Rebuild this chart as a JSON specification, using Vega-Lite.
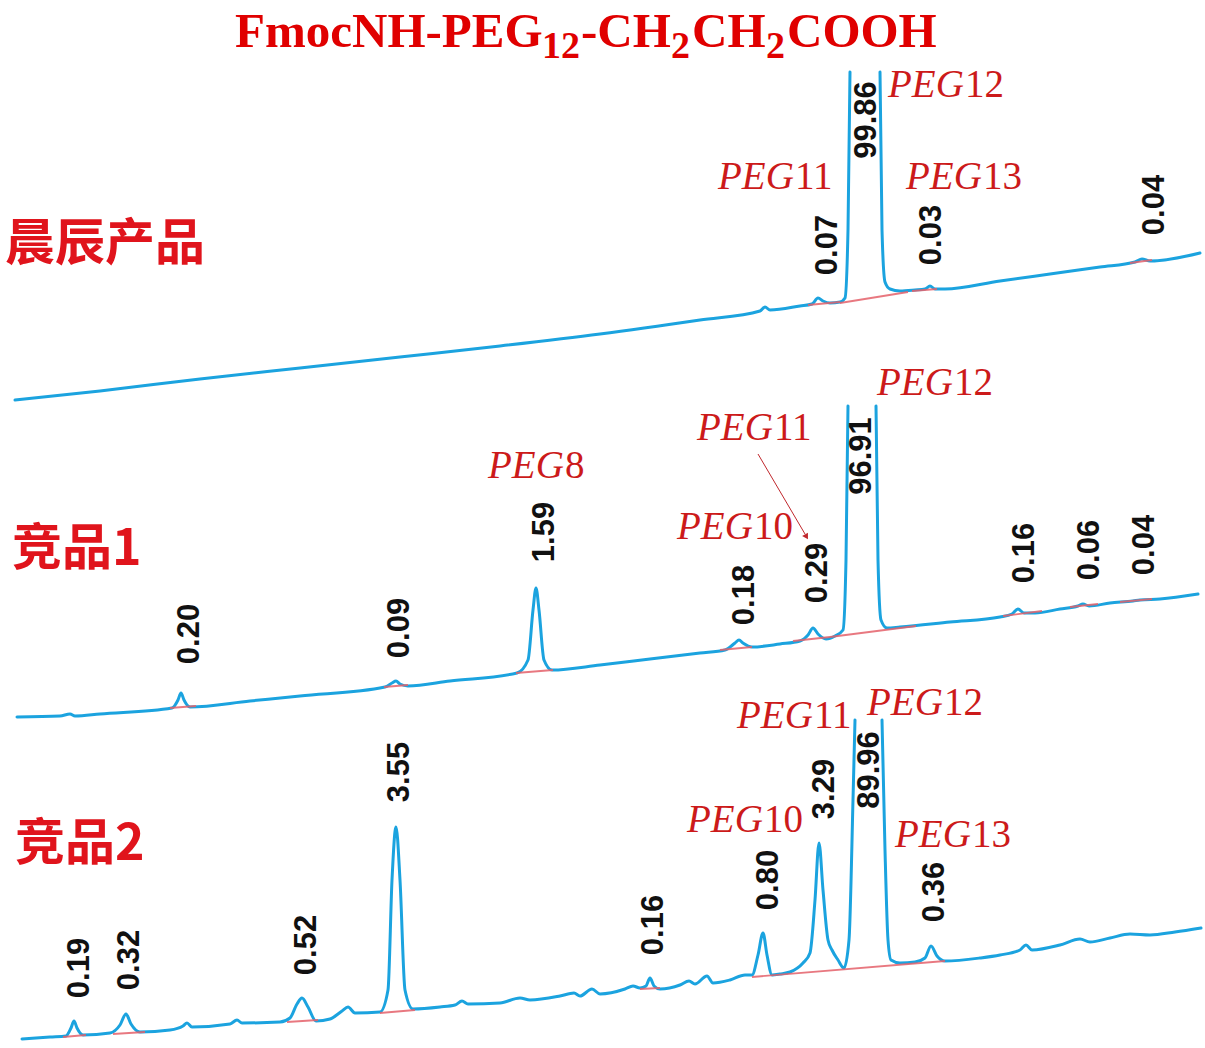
{
  "$schema": "https://vega.github.io/schema/vega-lite/v6.json",
  "width": 1205,
  "height": 1048,
  "autosize": {"type": "fit", "contains": "padding"},
  "padding": 0,
  "background": "white",
  "config": {"view": {"stroke": null}},
  "datasets": {
    "trace": [
      {"s":"a1","x":15,"y":400},{"s":"a1","x":100,"y":391},{"s":"a1","x":200,"y":379},{"s":"a1","x":300,"y":368},{"s":"a1","x":400,"y":357},{"s":"a1","x":500,"y":346},{"s":"a1","x":600,"y":334},{"s":"a1","x":700,"y":320},{"s":"a1","x":760,"y":311},{"s":"a1","x":765,"y":307},{"s":"a1","x":770,"y":310},{"s":"a1","x":800,"y":306},{"s":"a1","x":812,"y":304},{"s":"a1","x":818,"y":298},{"s":"a1","x":823,"y":301},{"s":"a1","x":830,"y":303},{"s":"a1","x":840,"y":302},{"s":"a1","x":845,"y":298},{"s":"a1","x":848,"y":230},{"s":"a1","x":850,"y":72},
      {"s":"b1","x":880,"y":72},{"s":"b1","x":882,"y":230},{"s":"b1","x":885,"y":282},{"s":"b1","x":890,"y":289},{"s":"b1","x":900,"y":291},{"s":"b1","x":915,"y":290},{"s":"b1","x":925,"y":289},{"s":"b1","x":930,"y":286},{"s":"b1","x":935,"y":289},{"s":"b1","x":945,"y":289},{"s":"b1","x":1000,"y":281},{"s":"b1","x":1050,"y":274},{"s":"b1","x":1100,"y":267},{"s":"b1","x":1135,"y":262},{"s":"b1","x":1142,"y":259},{"s":"b1","x":1150,"y":261},{"s":"b1","x":1200,"y":253},
      {"s":"a2","x":17,"y":717},{"s":"a2","x":60,"y":716},{"s":"a2","x":70,"y":714},{"s":"a2","x":75,"y":716},{"s":"a2","x":100,"y":714},{"s":"a2","x":172,"y":708},{"s":"a2","x":178,"y":700},{"s":"a2","x":181,"y":693},{"s":"a2","x":184,"y":700},{"s":"a2","x":190,"y":707},{"s":"a2","x":250,"y":701},{"s":"a2","x":300,"y":696},{"s":"a2","x":385,"y":687},{"s":"a2","x":392,"y":683},{"s":"a2","x":396,"y":681},{"s":"a2","x":400,"y":684},{"s":"a2","x":408,"y":686},{"s":"a2","x":450,"y":681},{"s":"a2","x":517,"y":673},{"s":"a2","x":528,"y":660},{"s":"a2","x":533,"y":610},{"s":"a2","x":536,"y":588},{"s":"a2","x":539,"y":610},{"s":"a2","x":544,"y":660},{"s":"a2","x":552,"y":670},{"s":"a2","x":600,"y":665},{"s":"a2","x":650,"y":659},{"s":"a2","x":700,"y":653},{"s":"a2","x":725,"y":650},{"s":"a2","x":735,"y":643},{"s":"a2","x":739,"y":640},{"s":"a2","x":743,"y":643},{"s":"a2","x":752,"y":647},{"s":"a2","x":780,"y":644},{"s":"a2","x":800,"y":641},{"s":"a2","x":808,"y":635},{"s":"a2","x":813,"y":628},{"s":"a2","x":818,"y":634},{"s":"a2","x":826,"y":639},{"s":"a2","x":835,"y":636},{"s":"a2","x":843,"y":630},{"s":"a2","x":846,"y":560},{"s":"a2","x":848,"y":406},
      {"s":"b2","x":876,"y":406},{"s":"b2","x":878,"y":560},{"s":"b2","x":881,"y":620},{"s":"b2","x":887,"y":628},{"s":"b2","x":900,"y":627},{"s":"b2","x":950,"y":622},{"s":"b2","x":1000,"y":617},{"s":"b2","x":1012,"y":614},{"s":"b2","x":1018,"y":609},{"s":"b2","x":1024,"y":613},{"s":"b2","x":1035,"y":613},{"s":"b2","x":1060,"y":609},{"s":"b2","x":1078,"y":606},{"s":"b2","x":1083,"y":604},{"s":"b2","x":1089,"y":606},{"s":"b2","x":1110,"y":603},{"s":"b2","x":1133,"y":601},{"s":"b2","x":1140,"y":600},{"s":"b2","x":1160,"y":599},{"s":"b2","x":1198,"y":594},
      {"s":"a3","x":22,"y":1039},{"s":"a3","x":50,"y":1037},{"s":"a3","x":66,"y":1036},{"s":"a3","x":71,"y":1028},{"s":"a3","x":74,"y":1021},{"s":"a3","x":77,"y":1028},{"s":"a3","x":83,"y":1035},{"s":"a3","x":110,"y":1033},{"s":"a3","x":120,"y":1025},{"s":"a3","x":126,"y":1014},{"s":"a3","x":131,"y":1024},{"s":"a3","x":140,"y":1032},{"s":"a3","x":170,"y":1030},{"s":"a3","x":183,"y":1026},{"s":"a3","x":187,"y":1023},{"s":"a3","x":192,"y":1027},{"s":"a3","x":230,"y":1024},{"s":"a3","x":237,"y":1020},{"s":"a3","x":242,"y":1023},{"s":"a3","x":280,"y":1022},{"s":"a3","x":290,"y":1018},{"s":"a3","x":297,"y":1004},{"s":"a3","x":302,"y":998},{"s":"a3","x":308,"y":1007},{"s":"a3","x":316,"y":1021},{"s":"a3","x":330,"y":1019},{"s":"a3","x":342,"y":1011},{"s":"a3","x":348,"y":1007},{"s":"a3","x":355,"y":1013},{"s":"a3","x":380,"y":1012},{"s":"a3","x":388,"y":990},{"s":"a3","x":392,"y":880},{"s":"a3","x":396,"y":827},{"s":"a3","x":400,"y":880},{"s":"a3","x":405,"y":990},{"s":"a3","x":413,"y":1009},{"s":"a3","x":440,"y":1007},{"s":"a3","x":455,"y":1005},{"s":"a3","x":462,"y":1001},{"s":"a3","x":468,"y":1004},{"s":"a3","x":500,"y":1003},{"s":"a3","x":520,"y":998},{"s":"a3","x":530,"y":1000},{"s":"a3","x":560,"y":996},{"s":"a3","x":574,"y":993},{"s":"a3","x":580,"y":996},{"s":"a3","x":592,"y":989},{"s":"a3","x":600,"y":994},{"s":"a3","x":625,"y":989},{"s":"a3","x":633,"y":986},{"s":"a3","x":640,"y":988},{"s":"a3","x":646,"y":986},{"s":"a3","x":650,"y":978},{"s":"a3","x":654,"y":986},{"s":"a3","x":660,"y":989},{"s":"a3","x":680,"y":985},{"s":"a3","x":689,"y":981},{"s":"a3","x":695,"y":984},{"s":"a3","x":707,"y":976},{"s":"a3","x":713,"y":983},{"s":"a3","x":730,"y":980},{"s":"a3","x":745,"y":975},{"s":"a3","x":752,"y":975},{"s":"a3","x":758,"y":955},{"s":"a3","x":763,"y":933},{"s":"a3","x":767,"y":955},{"s":"a3","x":772,"y":975},{"s":"a3","x":780,"y":974},{"s":"a3","x":790,"y":972},{"s":"a3","x":803,"y":963},{"s":"a3","x":810,"y":953},{"s":"a3","x":815,"y":900},{"s":"a3","x":819,"y":843},{"s":"a3","x":823,"y":890},{"s":"a3","x":828,"y":940},{"s":"a3","x":832,"y":950},{"s":"a3","x":838,"y":960},{"s":"a3","x":844,"y":968},{"s":"a3","x":849,"y":940},{"s":"a3","x":853,"y":800},{"s":"a3","x":855,"y":720},
      {"s":"b3","x":882,"y":720},{"s":"b3","x":885,"y":850},{"s":"b3","x":888,"y":940},{"s":"b3","x":891,"y":960},{"s":"b3","x":900,"y":963},{"s":"b3","x":915,"y":962},{"s":"b3","x":925,"y":958},{"s":"b3","x":931,"y":946},{"s":"b3","x":937,"y":956},{"s":"b3","x":945,"y":961},{"s":"b3","x":980,"y":958},{"s":"b3","x":1000,"y":955},{"s":"b3","x":1020,"y":950},{"s":"b3","x":1026,"y":945},{"s":"b3","x":1032,"y":950},{"s":"b3","x":1060,"y":945},{"s":"b3","x":1080,"y":939},{"s":"b3","x":1090,"y":942},{"s":"b3","x":1110,"y":938},{"s":"b3","x":1130,"y":934},{"s":"b3","x":1150,"y":935},{"s":"b3","x":1175,"y":932},{"s":"b3","x":1201,"y":928}
    ],
    "base": [
      {"x":808,"y":305,"x2":840,"y2":302},{"x":840,"y":303,"x2":908,"y2":292},{"x":912,"y":291,"x2":937,"y2":289},{"x":1130,"y":263,"x2":1152,"y2":260},
      {"x":170,"y":708,"x2":196,"y2":706},{"x":384,"y":687,"x2":408,"y2":685},{"x":516,"y":673,"x2":553,"y2":670},{"x":720,"y":650,"x2":752,"y2":647},{"x":793,"y":641,"x2":830,"y2":637},{"x":830,"y":637,"x2":916,"y2":626},{"x":1003,"y":616,"x2":1042,"y2":611},{"x":1070,"y":607,"x2":1098,"y2":604},{"x":1120,"y":602,"x2":1152,"y2":599},
      {"x":63,"y":1037,"x2":86,"y2":1035},{"x":113,"y":1034,"x2":145,"y2":1032},{"x":287,"y":1022,"x2":318,"y2":1020},{"x":380,"y":1013,"x2":415,"y2":1010},{"x":640,"y":989,"x2":660,"y2":988},{"x":752,"y":977,"x2":945,"y2":961}
    ],
    "area": [
      {"label":"0.07","x":828,"y":245},{"label":"99.86","x":867,"y":120},{"label":"0.03","x":932,"y":235},{"label":"0.04","x":1155,"y":205},
      {"label":"0.20","x":190,"y":634},{"label":"0.09","x":400,"y":628},{"label":"1.59","x":545,"y":532},{"label":"0.18","x":745,"y":595},{"label":"0.29","x":818,"y":573},{"label":"96.91","x":862,"y":456},{"label":"0.16","x":1025,"y":553},{"label":"0.06","x":1090,"y":550},{"label":"0.04","x":1145,"y":545},
      {"label":"0.19","x":80,"y":968},{"label":"0.32","x":130,"y":960},{"label":"0.52","x":307,"y":945},{"label":"3.55","x":400,"y":772},{"label":"0.16","x":654,"y":925},{"label":"0.80","x":769,"y":880},{"label":"3.29","x":825,"y":789},{"label":"89.96","x":870,"y":770},{"label":"0.36","x":935,"y":892}
    ],
    "peg": [
      {"n":"12","x":888,"y":85},{"n":"11","x":718,"y":177},{"n":"13","x":906,"y":177},
      {"n":"8","x":488,"y":466},{"n":"11","x":697,"y":428},{"n":"10","x":677,"y":527},{"n":"12","x":877,"y":383},
      {"n":"11","x":737,"y":716},{"n":"12","x":867,"y":703},{"n":"10","x":687,"y":820},{"n":"13","x":895,"y":835}
    ],
    "side": [
      {"label":"晨辰产品","x":5,"y":245},{"label":"竞品1","x":12,"y":550},{"label":"竞品2","x":15,"y":845}
    ],
    "titleMain": [
      {"t":"FmocNH-PEG","x":235,"y":47},{"t":"-CH","x":581,"y":47},{"t":"CH","x":692,"y":47},{"t":"COOH","x":787,"y":47}
    ],
    "titleSub": [
      {"t":"12","x":542,"y":58},{"t":"2","x":671,"y":58},{"t":"2","x":766,"y":58}
    ],
    "arrow": [
      {"x":758,"y":454,"x2":805,"y2":534}
    ],
    "arrowHead": [
      {"x":806,"y":536}
    ]
  },
  "encoding": {
    "x": {"field": "x", "type": "quantitative", "scale": {"domain": [0, 1205], "nice": false, "zero": false}, "axis": null},
    "y": {"field": "y", "type": "quantitative", "scale": {"domain": [0, 1048], "nice": false, "zero": false, "reverse": true}, "axis": null}
  },
  "layer": [
    {
      "data": {"name": "trace"},
      "mark": {"type": "line", "interpolate": "monotone", "color": "#1BA3DF", "strokeWidth": 3, "strokeJoin": "round", "strokeCap": "round"},
      "encoding": {"detail": {"field": "s", "type": "nominal"}}
    },
    {
      "data": {"name": "base"},
      "mark": {"type": "rule", "color": "#E4606A", "strokeWidth": 1.8, "opacity": 0.85},
      "encoding": {"x2": {"field": "x2"}, "y2": {"field": "y2"}}
    },
    {
      "data": {"name": "area"},
      "mark": {"type": "text", "angle": 270, "align": "center", "baseline": "middle", "font": "Liberation Sans", "fontWeight": "bold", "fontSize": 31, "color": "#111111"},
      "encoding": {"text": {"field": "label", "type": "nominal"}}
    },
    {
      "data": {"name": "peg"},
      "mark": {"type": "text", "text": "PEG", "align": "left", "baseline": "middle", "font": "Liberation Serif", "fontStyle": "italic", "fontSize": 39, "color": "#CC1A1A"},
      "encoding": {}
    },
    {
      "data": {"name": "peg"},
      "mark": {"type": "text", "align": "left", "baseline": "middle", "dx": 77, "font": "Liberation Serif", "fontSize": 39, "color": "#CC1A1A"},
      "encoding": {"text": {"field": "n", "type": "nominal"}}
    },
    {
      "data": {"name": "side"},
      "mark": {"type": "text", "align": "left", "baseline": "middle", "font": "Noto Sans CJK SC", "fontWeight": "bold", "fontSize": 50, "color": "#E0141C"},
      "encoding": {"text": {"field": "label", "type": "nominal"}}
    },
    {
      "data": {"name": "titleMain"},
      "mark": {"type": "text", "align": "left", "baseline": "alphabetic", "font": "Liberation Serif", "fontWeight": "bold", "fontSize": 49, "color": "#E00000"},
      "encoding": {"text": {"field": "t", "type": "nominal"}}
    },
    {
      "data": {"name": "titleSub"},
      "mark": {"type": "text", "align": "left", "baseline": "alphabetic", "font": "Liberation Serif", "fontWeight": "bold", "fontSize": 38, "color": "#E00000"},
      "encoding": {"text": {"field": "t", "type": "nominal"}}
    },
    {
      "data": {"name": "arrow"},
      "mark": {"type": "rule", "color": "#C0282D", "strokeWidth": 1},
      "encoding": {"x2": {"field": "x2"}, "y2": {"field": "y2"}}
    },
    {
      "data": {"name": "arrowHead"},
      "mark": {"type": "point", "shape": "triangle", "angle": 150, "filled": true, "size": 45, "color": "#C0282D", "opacity": 1},
      "encoding": {}
    }
  ]
}
